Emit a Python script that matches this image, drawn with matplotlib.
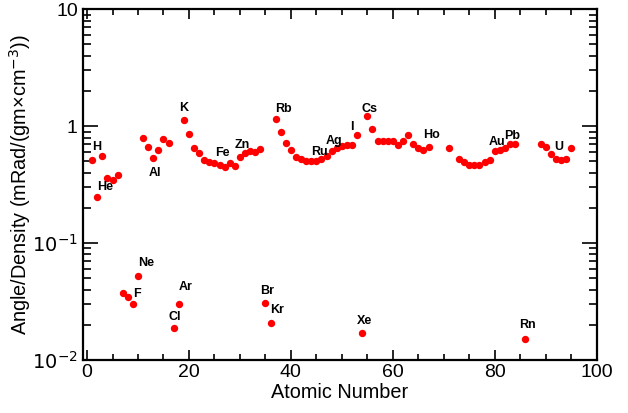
import numpy as np
import matplotlib
matplotlib.use("Agg")
from matplotlib import pyplot as plt
from matplotlib.ticker import FixedLocator, FixedFormatter, LogLocator, NullFormatter, MultipleLocator

plt.rcParams['font.family'] = ['Liberation Sans', 'DejaVu Sans']

# atomic number and angle/density
z = [1, 2, 3, 4, 5, 6, 7, 8, 9, 10, 11, 12, 13, 14, 15, 16, 17, 18, 19, 20,
     21, 22, 23, 24, 25, 26, 27, 28, 29, 30, 31, 32, 33, 34, 35, 36, 37, 38, 39, 40,
     41, 42, 43, 44, 45, 46, 47, 48, 49, 50, 51, 52, 53, 54, 55, 56, 57, 58, 59, 60,
     61, 62, 63, 64, 65, 66, 67, 71, 73, 74, 75, 76, 77, 78, 79, 80,
     81, 82, 83, 84, 86, 89, 90, 91, 92, 93, 94, 95]
val = [0.51, 0.25, 0.56, 0.36, 0.35, 0.38, 0.0377, 0.0348, 0.030, 0.0526,
       0.80, 0.66, 0.53, 0.63, 0.77, 0.72, 0.0187, 0.030, 1.13, 0.86,
       0.65, 0.59, 0.51, 0.49, 0.48, 0.47, 0.45, 0.48, 0.46, 0.54,
       0.59, 0.61, 0.60, 0.64, 0.0305, 0.0206, 1.15, 0.90, 0.72, 0.63,
       0.54, 0.52, 0.50, 0.50, 0.50, 0.52, 0.56, 0.61, 0.65, 0.68,
       0.69, 0.69, 0.84, 0.0170, 1.22, 0.94, 0.74, 0.74, 0.74, 0.74,
       0.69, 0.74, 0.84, 0.71, 0.65, 0.63, 0.67, 0.65, 0.52, 0.49,
       0.47, 0.47, 0.47, 0.49, 0.51, 0.61, 0.63, 0.65, 0.70, 0.71,
       0.0150, 0.71, 0.67, 0.58, 0.52, 0.51, 0.52, 0.65]

label_names = ['H', 'He', 'Al', 'K', 'Fe', 'Zn', 'Rb', 'Ru', 'Ag', 'I', 'Cs', 'Ho',
               'Au', 'Pb', 'U', 'Ne', 'F', 'Cl', 'Ar', 'Br', 'Kr', 'Xe', 'Rn']
label_z = [1, 2, 13, 19, 26, 30, 37, 44, 47, 53, 55, 67,
           79, 82, 92, 10, 9, 17, 18, 35, 36, 54, 86]

# label offsets from their point, in pixels
offsets = {'H': (5, 13), 'He': (8, 10), 'Al': (2, -15), 'K': (0, 12), 'Fe': (3, 12),
           'Zn': (2, 12), 'Rb': (8, 10), 'Ru': (8, 9), 'Ag': (7, 15), 'I': (-5, 8),
           'Cs': (2, 7), 'Ho': (3, 12), 'Au': (7, 18), 'Pb': (7, 12), 'U': (3, 12),
           'Ne': (8, 13), 'F': (4, 10), 'Cl': (1, 11), 'Ar': (7, 17), 'Br': (2, 12),
           'Kr': (7, 13), 'Xe': (2, 12), 'Rn': (2, 14)}

fig = plt.figure(figsize=(6.28, 4.13), dpi=100)
ax = fig.add_axes([0.1317, 0.1283, 0.8185, 0.8492])

ax.plot(z, val, 'o', color='#ff0000', markersize=5.3, markeredgewidth=0)

lookup = dict(zip(z, val))
for name, zz in zip(label_names, label_z):
    ax.annotate(name, xy=(zz, lookup[zz]), xytext=offsets[name],
                textcoords='offset pixels', ha='center', va='center',
                fontsize=9, fontweight='bold')

ax.set_yscale('log')
ax.set_xlim(-0.85, 100)
ax.set_ylim(0.01, 10)

ax.xaxis.set_major_locator(MultipleLocator(20))
ax.xaxis.set_minor_locator(MultipleLocator(5))
ax.yaxis.set_major_locator(FixedLocator([0.01, 0.1, 1, 10]))
ax.yaxis.set_major_formatter(FixedFormatter([r'$10^{-2}$', r'$10^{-1}$', '1', '10']))
ax.yaxis.set_minor_locator(LogLocator(base=10, subs=np.arange(2, 10)))
ax.yaxis.set_minor_formatter(NullFormatter())

for s in ax.spines.values():
    s.set_linewidth(1.6)
ax.tick_params(which='both', direction='in', top=True, right=True, width=1.2,
               labelsize=14)
ax.tick_params(axis='y', which='major', length=11, pad=3.5)
ax.tick_params(axis='y', which='minor', length=5.5)
ax.tick_params(axis='x', which='major', length=7.5, pad=3)
ax.tick_params(axis='x', which='minor', length=4)

ax.set_xlabel('Atomic Number', fontsize=14.3, labelpad=1)
ax.set_ylabel(r'Angle/Density (mRad/(gm×cm$^{-3}$))', fontsize=14.3)
ax.yaxis.set_label_coords(-0.096, 0.5)

fig.savefig('out.png', dpi=100)
